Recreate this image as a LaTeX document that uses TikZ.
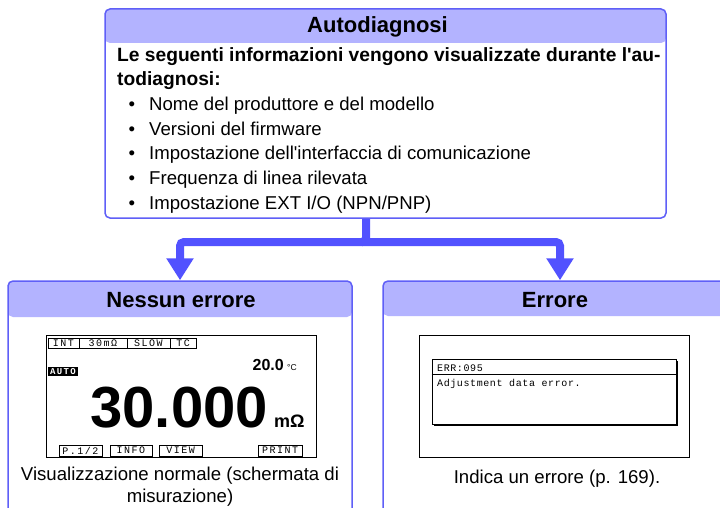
\documentclass[tikz,border=0pt]{standalone}
\usepackage{fontspec}
\setmainfont{Liberation Sans}
\setmonofont{Liberation Mono}
\newfontfamily\tabfont[LetterSpace=15]{Liberation Mono}
\newfontfamily\dlgfont[LetterSpace=6]{Liberation Mono}
\usetikzlibrary{arrows.meta}
\definecolor{bordc}{HTML}{5F5FF7}
\definecolor{headc}{HTML}{B3B3FF}
\definecolor{flowc}{HTML}{5252FF}
\begin{document}
\begin{tikzpicture}[x=1pt,y=-1pt,
  panel/.style={draw=bordc, line width=1.5pt, rounded corners=5pt, fill=white, inner sep=0pt,
    path picture={\fill[headc] (path picture bounding box.north west) rectangle ([yshift=-#1]path picture bounding box.east |- path picture bounding box.north);}},
  headtxt/.style={anchor=base, font=\fontsize{22}{26}\selectfont\bfseries, inner sep=0pt},
  body/.style={anchor=base west, font=\fontsize{18.6}{24.5}\selectfont, inner sep=0pt},
  bodyb/.style={body, font=\fontsize{19.2}{24.5}\selectfont\bfseries},
  bul/.style={anchor=base, font=\fontsize{18.6}{24.5}\selectfont, inner sep=0pt},
  captxt/.style={anchor=base, font=\fontsize{18.6}{24.5}\selectfont, inner sep=0pt},
  flow/.style={draw=flowc, line width=8pt, rounded corners=4pt},
  flowtip/.style={-{Triangle[length=22pt 0 0, width=26pt 0 0]}},
  screen/.style={draw=black, line width=0.9pt, fill=white, inner sep=0pt},
  tab/.style={draw=black, line width=0.8pt, inner sep=0pt, font=\fontsize{10}{10}\tabfont},
  lcd/.style={inner sep=0pt, font=\fontsize{10}{10}\dlgfont}
]
\useasboundingbox (0,0) rectangle (720,508);
\clip (0,0) rectangle (720,508);

% top panel
\node[panel=34pt, minimum width=561pt, minimum height=209pt] (top) at (385.5,113.5) {};
\node[headtxt] (toph) at (377.5,33) {Autodiagnosi};
\node[bodyb] (l1) at (117,61.5) {Le seguenti informazioni vengono visualizzate durante l\textquotesingle au-};
\node[bodyb] (l2) at (117,85.5) {todiagnosi:};
\node[bul] (b0) at (132,111) {•};
\node[body] (t0) at (149,111) {Nome del produttore e del modello};
\node[bul] (b1) at (132,135.5) {•};
\node[body] (t1) at (149,135.5) {Versioni del firmware};
\node[bul] (b2) at (132,160) {•};
\node[body] (t2) at (149,160) {Impostazione dell\textquotesingle interfaccia di comunicazione};
\node[bul] (b3) at (132,184.5) {•};
\node[body] (t3) at (149,184.5) {Frequenza di linea rilevata};
\node[bul] (b4) at (132,209) {•};
\node[body] (t4) at (149,209) {Impostazione EXT I/O (NPN/PNP)};

% bottom panels
\node[panel=36pt, minimum width=344pt, minimum height=239pt] (left) at (180,400.5) {};
\node[headtxt] (lefth) at (181,307) {Nessun errore};
\node[panel=35pt, minimum width=344pt, minimum height=239pt] (right) at (555,400.5) {};
\node[headtxt] (righth) at (555,307) {Errore};

% connectors
\coordinate (j) at (366,242);
\draw[flow, flowtip] (top.south -| j) -- (j) -| (left.north);
\draw[flow, flowtip] ([xshift=-4pt]j) -| ([xshift=5pt]right.north);

% left LCD
\node[screen, minimum width=270pt, minimum height=122pt] (lcdL) at (181,396) {};
\node[tab, minimum width=31pt, minimum height=9.5pt] (tINT) at (63.5,343.5) {INT};
\node[tab, minimum width=48pt, minimum height=9.5pt] (tR) at (103,343.5) {30mΩ};
\node[tab, minimum width=43pt, minimum height=9.5pt] (tS) at (148.5,343.5) {SLOW};
\node[tab, minimum width=26pt, minimum height=9.5pt] (tT) at (183,343.5) {TC};
\node[fill=black, text=white, inner sep=0pt, minimum width=30pt, minimum height=9pt,
      font=\fontsize{9}{9}\tabfont\bfseries] (auto) at (63,371.5) {AUTO};
\node[anchor=base east, inner sep=0pt, font=\fontsize{16}{16}\selectfont\bfseries] (temp) at (284,370) {20.0};
\node[anchor=base west, inner sep=0pt, font=\fontsize{8.5}{8.5}\selectfont] (degc) at (287,370) {°C};
\node[anchor=base east, inner sep=0pt, font=\fontsize{58}{58}\selectfont\bfseries] (val) at (268,427) {30.000};
\node[anchor=base west, inner sep=0pt, font=\fontsize{18}{18}\selectfont\bfseries] (unit) at (274,427) {mΩ};
\node[tab, minimum width=43pt, minimum height=11pt] (bP) at (80.5,450.5) {P.1/2};
\node[tab, minimum width=42pt, minimum height=11pt] (bI) at (131,450.5) {INFO};
\node[tab, minimum width=43pt, minimum height=11pt] (bV) at (180.5,450.5) {VIEW};
\node[tab, minimum width=44pt, minimum height=11pt] (bR) at (280,450.5) {PRINT};
\node[captxt] (capL1) at (180,480) {Visualizzazione normale (schermata di};
\node[captxt] (capL2) at (180,502) {misurazione)};

% right LCD
\node[screen, minimum width=270pt, minimum height=122pt] (lcdR) at (554,396) {};
\fill[black] (434,361) rectangle (678,426);
\node[draw=black, line width=0.8pt, fill=white, inner sep=0pt, minimum width=244pt, minimum height=65pt] (dlg) at (554,391.5) {};
\draw[line width=0.8pt] (dlg.west |- 0,374) -- (dlg.east |- 0,374);
\node[lcd, anchor=base west] (errc) at (437,371) {ERR:095};
\node[lcd, anchor=base west] (errm) at (437,386) {Adjustment data error.};
\node[captxt] (capR) at (557,483) {Indica un errore (p. 169).};
\end{tikzpicture}
\end{document}
